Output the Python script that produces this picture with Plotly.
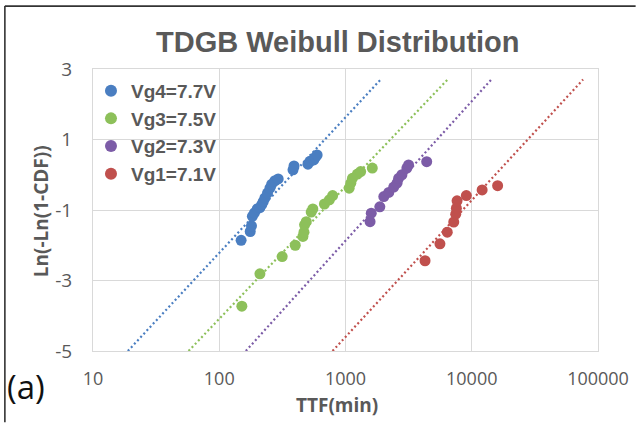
import numpy as np
import plotly.graph_objects as go

# Weibull plot of time-to-failure for four gate-voltage stress conditions
series_names = ["Vg4=7.7V", "Vg3=7.5V", "Vg2=7.3V", "Vg1=7.1V"]
series_colors = ["#4A7EC1", "#8DC05A", "#7C5CA7", "#C0504D"]

ttf_vg4 = [149, 176, 180, 183, 190, 200, 210, 217, 223, 230, 241, 252, 260, 276, 293,
           384, 391, 504, 522, 561, 575, 596]
wb_vg4 = [-1.86, -1.61, -1.45, -1.18, -1.08, -0.97, -0.93, -0.85, -0.76, -0.66, -0.52,
          -0.38, -0.27, -0.17, -0.12, 0.14, 0.25, 0.30, 0.38, 0.42, 0.49, 0.56]

ttf_vg3 = [151, 210, 315, 400, 460, 469, 474, 489, 535, 551, 681, 745, 791, 1069, 1101,
           1135, 1242, 1318, 1630]
wb_vg3 = [-3.73, -2.81, -2.32, -2.00, -1.75, -1.63, -1.42, -1.33, -1.06, -0.97, -0.83,
          -0.71, -0.59, -0.38, -0.24, -0.10, 0.02, 0.09, 0.19]

ttf_vg2 = [1565, 1600, 1870, 2011, 2201, 2410, 2558, 2636, 2798, 3063, 3160, 4397]
wb_vg2 = [-1.33, -1.09, -0.91, -0.62, -0.50, -0.35, -0.24, -0.10, 0.00, 0.19, 0.28, 0.37]

ttf_vg1 = [4266, 5598, 6398, 7200, 7465, 7555, 7652, 9060, 12085, 16030]
wb_vg1 = [-2.44, -1.96, -1.63, -1.34, -1.12, -0.95, -0.74, -0.59, -0.43, -0.31]

# Weibull fit parameters per condition: shape (beta) and scale (eta, min)
fit_beta = [1.67, 1.63, 1.72, 1.685]
fit_eta = [377, 1228, 2972, 15350]
trend_y_span = [-5.0, 2.7]

x_tick_vals = [10, 100, 1000, 10000, 100000]
x_tick_text = ["10", "100", "1000", "10000", "100000"]
y_tick_vals = [-5, -3, -1, 1, 3]
y_tick_text = ["-5", "-3", "-1", "1", "3"]

ttf_all = [ttf_vg4, ttf_vg3, ttf_vg2, ttf_vg1]
wb_all = [wb_vg4, wb_vg3, wb_vg2, wb_vg1]

fig = go.Figure()

# dotted Weibull trend lines: y = beta * (ln t - ln eta)
for name, color, beta, eta in zip(series_names, series_colors, fit_beta, fit_eta):
    y_line = np.array(trend_y_span)
    t_line = eta * np.exp(y_line / beta)
    fig.add_trace(go.Scatter(
        x=t_line, y=y_line, mode="lines",
        line=dict(color=color, width=2.2, dash="2px,2.6px"),
        showlegend=False, hoverinfo="skip",
    ))

for name, color, t, w in zip(series_names, series_colors, ttf_all, wb_all):
    fig.add_trace(go.Scatter(
        x=t, y=w, mode="markers", name="<b>" + name + "</b>",
        marker=dict(color=color, size=11, line=dict(width=0)),
    ))

grid = "#D9D9D9"
label_grey = "#595959"

fig.update_layout(
    width=641, height=423,
    margin=dict(l=93, r=38, t=69, b=72, pad=0),
    paper_bgcolor="white", plot_bgcolor="white",
    showlegend=True,
    legend=dict(
        x=-0.004, y=0.99, xanchor="left", yanchor="top",
        bgcolor="rgba(0,0,0,0)", borderwidth=0,
        font=dict(family="Liberation Sans, Arial", size=19, color=label_grey),
        itemsizing="constant", tracegroupgap=0,
    ),
    xaxis=dict(
        type="log", range=[1, 5],
        tickvals=x_tick_vals, ticktext=x_tick_text,
        showgrid=True, gridcolor=grid, gridwidth=1,
        showline=True, linecolor=grid, linewidth=1, mirror=True,
        zeroline=False, ticks="",
        ticklabelstandoff=11,
        tickfont=dict(family="Open Sans", size=18, color=label_grey),
    ),
    yaxis=dict(
        range=[-5, 3],
        tickvals=y_tick_vals, ticktext=y_tick_text,
        showgrid=True, gridcolor=grid, gridwidth=1,
        showline=True, linecolor=grid, linewidth=1, mirror=True,
        zeroline=False, ticks="",
        ticklabelstandoff=16,
        tickfont=dict(family="Open Sans", size=19, color=label_grey),
    ),
    annotations=[
        dict(text="<b>TDGB Weibull Distribution</b>", xref="paper", yref="paper",
             x=(340 - 93) / 510, y=(351.5 - 42) / 282.5, xanchor="center", yanchor="middle",
             showarrow=False,
             font=dict(family="Liberation Sans, Arial", size=29, color=label_grey)),
        dict(text="<b>TTF(min)</b>", xref="paper", yref="paper",
             x=(339 - 93) / 510, y=(351.5 - 406) / 282.5, xanchor="center", yanchor="middle",
             showarrow=False,
             font=dict(family="Open Sans", size=19, color=label_grey)),
        dict(text="<b>Ln(-Ln(1-CDF))</b>", xref="paper", yref="paper",
             x=(40 - 93) / 510, y=(351.5 - 212) / 282.5, xanchor="center", yanchor="middle",
             textangle=-90, showarrow=False,
             font=dict(family="Open Sans", size=19, color=label_grey)),
        dict(text="(a)", xref="paper", yref="paper",
             x=(25 - 93) / 510, y=(351.5 - 387) / 282.5, xanchor="center", yanchor="middle",
             showarrow=False,
             font=dict(family="Open Sans", size=33, color="#111111")),
    ],
    shapes=[
        dict(type="line", xref="paper", yref="paper",
             x0=(4 - 93) / 510, x1=(641 - 93) / 510,
             y0=(351.5 - 6) / 282.5, y1=(351.5 - 6) / 282.5,
             line=dict(color="#333333", width=1.6)),
        dict(type="line", xref="paper", yref="paper",
             x0=(4 - 93) / 510, x1=(4 - 93) / 510,
             y0=(351.5 - 6) / 282.5, y1=(351.5 - 423) / 282.5,
             line=dict(color="#333333", width=1.6)),
    ],
)

fig.write_html("out.html")
